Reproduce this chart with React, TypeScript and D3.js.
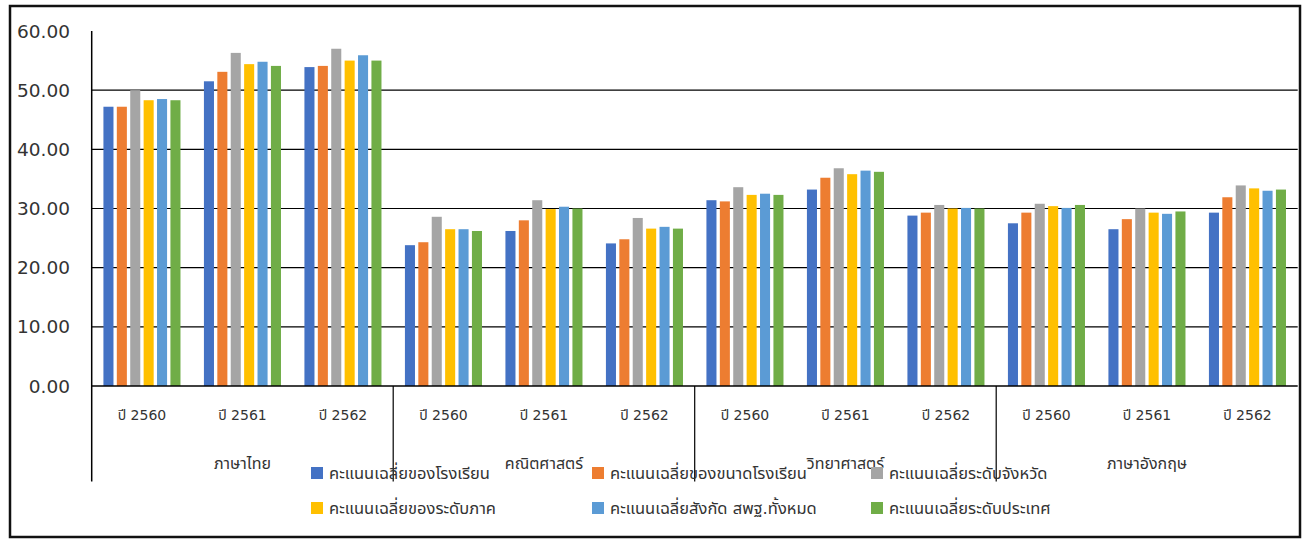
import React from "react";
import * as d3 from "d3";

const subjects = ["ภาษาไทย", "คณิตศาสตร์", "วิทยาศาสตร์", "ภาษาอังกฤษ"];
const years = ["ปี 2560", "ปี 2561", "ปี 2562"];
const seriesNames = [
  "คะแนนเฉลี่ยของโรงเรียน",
  "คะแนนเฉลี่ยของขนาดโรงเรียน",
  "คะแนนเฉลี่ยระดับจังหวัด",
  "คะแนนเฉลี่ยของระดับภาค",
  "คะแนนเฉลี่ยสังกัด สพฐ.ทั้งหมด",
  "คะแนนเฉลี่ยระดับประเทศ",
];
const seriesColors = ["#4472C4", "#ED7D31", "#A5A5A5", "#FFC000", "#5B9BD5", "#70AD47"];

const schoolAvg = [47.2, 51.5, 53.9, 23.8, 26.2, 24.1, 31.4, 33.2, 28.8, 27.5, 26.5, 29.3];
const sizeAvg = [47.2, 53.1, 54.1, 24.3, 28.0, 24.8, 31.2, 35.2, 29.3, 29.3, 28.2, 31.9];
const provinceAvg = [50.0, 56.3, 57.0, 28.6, 31.4, 28.4, 33.6, 36.8, 30.6, 30.8, 30.0, 33.9];
const regionAvg = [48.3, 54.4, 55.0, 26.5, 29.9, 26.6, 32.3, 35.8, 30.0, 30.4, 29.3, 33.4];
const obecAvg = [48.5, 54.8, 55.9, 26.5, 30.3, 26.9, 32.5, 36.4, 30.1, 30.1, 29.1, 33.0];
const nationAvg = [48.3, 54.1, 55.0, 26.2, 30.0, 26.6, 32.3, 36.2, 30.0, 30.6, 29.5, 33.2];

const yTicks = [0, 10, 20, 30, 40, 50, 60];

const W = 1307;
const H = 540;
const FONT = "Tahoma, 'DejaVu Sans', 'Noto Sans Thai', sans-serif";

export default function App() {
  const seriesValues = [schoolAvg, sizeAvg, provinceAvg, regionAvg, obecAvg, nationAvg];
  const cats: string[] = [];
  subjects.forEach((s, i) => years.forEach((y, j) => cats.push(`${i}-${j}`)));

  const left = 91.7;
  const right = 1297.7;
  const x0 = d3.scaleBand<string>().domain(cats).range([left, right]).padding(0);
  const x1 = d3
    .scaleBand<number>()
    .domain(d3.range(seriesNames.length))
    .range([0, x0.bandwidth()])
    .paddingInner(0.25)
    .paddingOuter(0.875);
  const y = d3.scaleLinear().domain([0, 60]).range([386, 31]);

  const catW = x0.bandwidth();
  const axisBottom = 481.5;

  const legendCols = [311, 592, 871];
  const legendRows = [467, 502];

  return (
    <svg
      width={W}
      height={H}
      style={{ position: "absolute", left: 0, top: 0, background: "#fff" }}
      fontFamily={FONT}
    >
      <rect x={0} y={0} width={W} height={H} fill="#fff" />
      <rect x={10} y={6} width={1290} height={531} fill="none" stroke="#111" strokeWidth={2.5} />

      {/* gridlines */}
      {yTicks.filter((t) => t > 0 && t < 60).map((t) => (
        <line key={t} x1={left} x2={right} y1={y(t)} y2={y(t)} stroke="#000" strokeWidth={1.2} />
      ))}

      {/* bars */}
      {cats.map((c, ci) =>
        seriesValues.map((vals, si) => (
          <rect
            key={`${c}-${si}`}
            x={(x0(c) as number) + (x1(si) as number)}
            y={y(vals[ci])}
            width={x1.bandwidth()}
            height={y(0) - y(vals[ci])}
            fill={seriesColors[si]}
          />
        ))
      )}

      {/* baseline */}
      <line x1={left} x2={right} y1={y(0)} y2={y(0)} stroke="#000" strokeWidth={1.5} />
      {/* y axis line */}
      <line x1={left} x2={left} y1={y(60)} y2={axisBottom} stroke="#000" strokeWidth={1.5} />
      {/* group separators */}
      {[3, 6, 9].map((i) => (
        <line
          key={i}
          x1={x0(cats[i]) as number}
          x2={x0(cats[i]) as number}
          y1={y(0)}
          y2={axisBottom}
          stroke="#000"
          strokeWidth={1.2}
        />
      ))}

      {/* y tick labels */}
      {yTicks.map((t) => (
        <text
          key={t}
          x={70}
          y={y(t)}
          textAnchor="end"
          dominantBaseline="central"
          fontSize={18.5}
          fill="#333"
          fontFamily="'DejaVu Sans', sans-serif"
        >
          {t.toFixed(2)}
        </text>
      ))}

      {/* year labels */}
      {cats.map((c, ci) => (
        <text
          key={c}
          x={(x0(c) as number) + catW / 2}
          y={415}
          textAnchor="middle"
          dominantBaseline="central"
          fontSize={14}
          fill="#333"
        >
          {years[ci % 3]}
        </text>
      ))}

      {/* subject labels */}
      {subjects.map((s, i) => (
        <text
          key={s}
          x={(x0(cats[i * 3 + 1]) as number) + catW / 2}
          y={463}
          textAnchor="middle"
          dominantBaseline="central"
          fontSize={16}
          fill="#333"
        >
          {s}
        </text>
      ))}

      {/* legend */}
      {seriesNames.map((n, i) => {
        const col = i % 3;
        const row = Math.floor(i / 3);
        const lx = legendCols[col];
        const ly = legendRows[row];
        return (
          <g key={n}>
            <rect x={lx} y={ly} width={12} height={12} fill={seriesColors[i]} />
            <text x={lx + 18} y={ly + 6} dominantBaseline="central" fontSize={16.5} fill="#333">
              {n}
            </text>
          </g>
        );
      })}
    </svg>
  );
}
